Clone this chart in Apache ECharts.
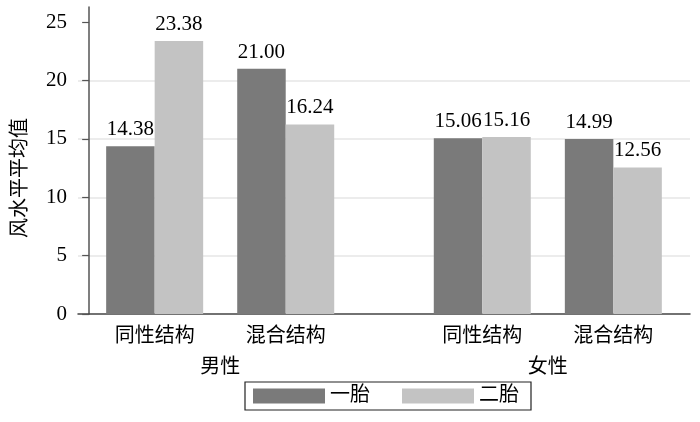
<!DOCTYPE html>
<html>
<head>
<meta charset="utf-8">
<script src="https://cdn.jsdelivr.net/npm/echarts@6/dist/echarts.min.js"></script>
<style>html,body{margin:0;padding:0;background:#fff}#c{width:700px;height:422px}</style>
</head>
<body>
<div id="c"></div>
<script>
// ---- data ----
const groups = ['男性', '女性'];
const structures = ['同性结构', '混合结构'];
const firstBirth = [14.38, 21.00, 15.06, 14.99];   // 一胎
const secondBirth = [23.38, 16.24, 15.16, 12.56];  // 二胎
const seriesNames = ['一胎', '二胎'];
const yTicks = [0, 5, 10, 15, 20, 25];
const yTitle = '风水平平均值';

// ---- layout helpers (slot positions on a value x axis) ----
const pos = [];      // x slot of each bar pair
const labelMap = {}; // x slot -> label text
groups.forEach((g, gi) => {
  structures.forEach((s, si) => {
    const x = gi * 5 + si * 2 + 1;
    pos.push(x);
    labelMap[x] = s;
  });
  labelMap[gi * 5 + 2] = '\n' + g;
});

const serif = 'Liberation Serif';
const cjk = '"Liberation Serif", "Noto Sans CJK SC"';

const chart = echarts.init(document.getElementById('c'), null, {renderer: 'canvas'});
const mkSeries = (name, vals, color) => ({
  name, type: 'bar', barWidth: 48.5, barGap: '0%',
  itemStyle: {color},
  label: {show: true, position: 'top', distance: 6, color: '#000',
    fontFamily: serif, fontSize: 21,
    formatter: p => p.value[1].toFixed(2)},
  data: vals.map((v, i) => [pos[i], v])
});

chart.setOption({
  animation: false,
  grid: {left: 78, right: 10, top: 7, bottom: 108, containLabel: false},
  xAxis: {
    type: 'value', min: -0.17, max: 9.17,
    splitLine: {show: false}, axisTick: {show: false},
    axisLine: {show: true, onZero: false, lineStyle: {color: '#444', width: 1.5}},
    axisLabel: {
      customValues: Object.keys(labelMap).map(Number),
      formatter: v => labelMap[v] || '',
      color: '#000', fontFamily: cjk, fontSize: 20, lineHeight: 31, margin: 7
    }
  },
  yAxis: {
    type: 'value', min: 0, max: 26.3, interval: 5,
    axisLine: {show: true, lineStyle: {color: '#555', width: 1.5}},
    axisTick: {show: true, length: 7, customValues: yTicks, lineStyle: {color: '#555', width: 1.2}},
    axisLabel: {customValues: yTicks, color: '#000', fontFamily: serif, fontSize: 21, margin: 11},
    splitLine: {show: true, showMinLine: false, showMaxLine: false, lineStyle: {color: '#e6e6e6', width: 1.5}}
  },
  legend: {
    left: 245, top: 382, icon: 'rect', itemWidth: 72, itemHeight: 15, itemGap: 32,
    borderColor: '#222', borderWidth: 1.2, padding: [4, 12, 4, 8],
    textStyle: {color: '#000', fontFamily: cjk, fontSize: 20},
    data: seriesNames
  },
  graphic: [{
    type: 'text', x: 18, y: 178, rotation: Math.PI / 2,
    style: {text: yTitle, fill: '#000', font: '20px "Noto Sans CJK SC"', align: 'center', verticalAlign: 'middle'}
  }],
  series: [
    mkSeries(seriesNames[0], firstBirth, '#7a7a7a'),
    mkSeries(seriesNames[1], secondBirth, '#c3c3c3')
  ]
});
</script>
</body>
</html>
